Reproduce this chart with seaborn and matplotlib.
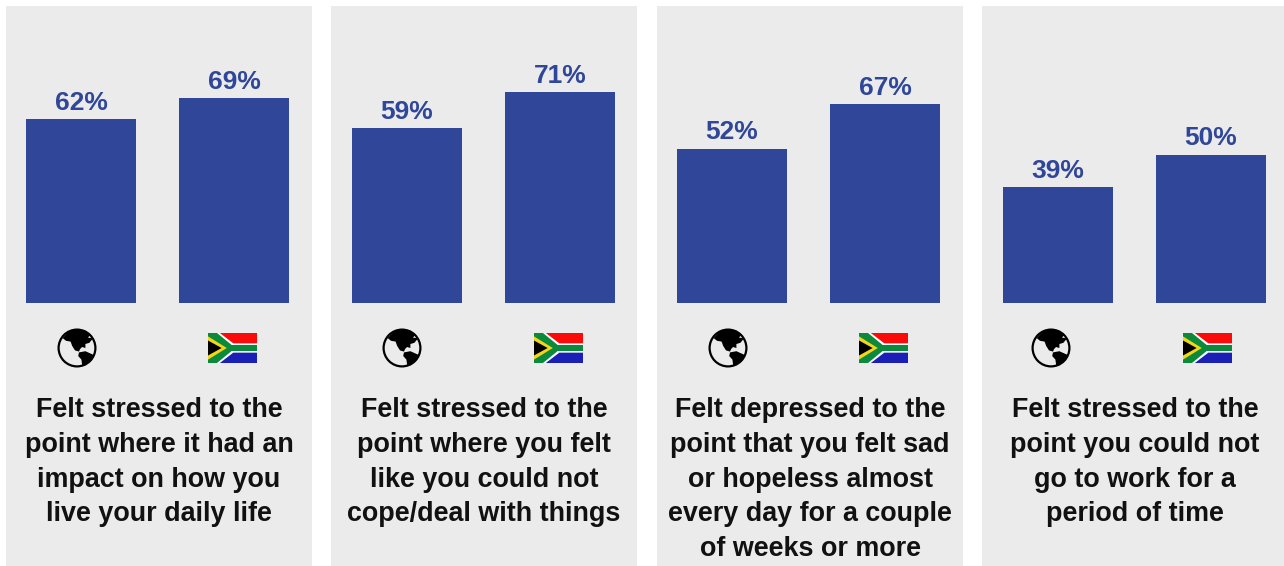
import matplotlib
matplotlib.use("Agg")
import matplotlib.pyplot as plt
from matplotlib.patches import Circle, Polygon, Rectangle
import pandas as pd
import seaborn as sns

scopes = ["Global", "South Africa"]
global_values = [62, 59, 52, 39]
south_africa_values = [69, 71, 67, 50]
captions = [
    "Felt stressed to the\npoint where it had an\nimpact on how you\nlive your daily life",
    "Felt stressed to the\npoint where you felt\nlike you could not\ncope/deal with things",
    "Felt depressed to the\npoint that you felt sad\nor hopeless almost\nevery day for a couple\nof weeks or more",
    "Felt stressed to the\npoint you could not\ngo to work for a\nperiod of time",
]

W, H = 1284, 566
BAR_COLOR = "#2F4699"
PANEL_COLOR = "#EBEBEB"
PX_PER_PCT = 2.97
BASELINE_Y = 303
PANEL_TOP = 6
PANEL_LEFTS = [6, 331, 657, 982]
FIRST_BAR_CENTERS = [81, 407, 732, 1058]
BAR_SPACING = 153
GLOBE_CENTERS = [77, 402, 728, 1051]
FLAG_LEFTS = [208, 534, 859, 1183]

sns.set_theme(style="white")
plt.rcParams["font.family"] = ["Liberation Sans", "DejaVu Sans"]


def px_axes(fig, left, top, width, height, **kwargs):
    """Add axes placed by pixel box measured from the top-left corner."""
    return fig.add_axes([left / W, 1 - (top + height) / H, width / W, height / H], **kwargs)


def draw_globe(fig, cx, cy, r=20):
    ax = px_axes(fig, cx - r, cy - r, 2 * r, 2 * r)
    ax.set_xlim(-1, 1)
    ax.set_ylim(-1, 1)
    ax.axis("off")
    ax.add_patch(Circle((0, 0), 0.92, fc=PANEL_COLOR, ec="black", lw=1.6))
    north_america = [(-0.72, 0.5), (-0.45, 0.78), (-0.05, 0.94), (0.4, 0.88), (0.68, 0.68),
                     (0.55, 0.52), (0.8, 0.48), (0.62, 0.26), (0.42, 0.2), (0.42, 0.0),
                     (0.25, 0.05), (0.15, -0.06), (0.1, -0.18), (-0.1, -0.12), (-0.24, 0.1),
                     (-0.32, 0.32), (-0.55, 0.36)]
    south_america = [(0.1, -0.22), (0.42, -0.16), (0.86, -0.36), (0.76, -0.58), (0.54, -0.72),
                     (0.4, -0.88), (0.26, -0.86), (0.22, -0.58), (0.06, -0.4)]
    ax.add_patch(Polygon(north_america, fc="black", ec="none"))
    ax.add_patch(Polygon(south_america, fc="black", ec="none"))


def draw_flag(fig, left, top, width=49, height=30):
    ax = px_axes(fig, left, top, width, height)
    ax.set_xlim(0, 6)
    ax.set_ylim(0, 4)
    ax.axis("off")
    ax.add_patch(Rectangle((0, 2), 6, 2, fc="#FB0A0A", ec="none"))
    ax.add_patch(Rectangle((0, 0), 6, 2, fc="#1A1FB8", ec="none"))
    ax.add_patch(Polygon([(0, 4), (1.45, 4), (3.1, 2.62), (6, 2.62), (6, 1.38), (3.1, 1.38),
                          (1.45, 0), (0, 0)], fc="white", ec="none"))
    ax.add_patch(Polygon([(0, 4), (1.1, 4), (2.9, 2.4), (6, 2.4), (6, 1.6), (2.9, 1.6),
                          (1.1, 0), (0, 0)], fc="#0B8A3C", ec="none"))
    ax.add_patch(Polygon([(0, 3.55), (2.3, 2), (0, 0.45)], fc="#F5D518", ec="none"))
    ax.add_patch(Polygon([(0, 3.0), (1.67, 2), (0, 1.0)], fc="black", ec="none"))


fig = plt.figure(figsize=(W / 100, H / 100), dpi=100, facecolor="white")

for i, caption in enumerate(captions):
    left = PANEL_LEFTS[i]
    ax = px_axes(fig, left, PANEL_TOP, 306, H - PANEL_TOP, facecolor=PANEL_COLOR)
    frame = pd.DataFrame({"scope": scopes, "share": [global_values[i], south_africa_values[i]]})
    sns.barplot(data=frame, x="scope", y="share", color=BAR_COLOR, saturation=1,
                width=0.715, linewidth=0, ax=ax)

    # Axis limits chosen so every panel shares one baseline and one bar scale.
    ax.set_xlim((left - FIRST_BAR_CENTERS[i]) / BAR_SPACING,
                (left + 306 - FIRST_BAR_CENTERS[i]) / BAR_SPACING)
    ax.set_ylim(-(H - BASELINE_Y) / PX_PER_PCT, (BASELINE_Y - PANEL_TOP) / PX_PER_PCT)
    ax.set_xlabel("")
    ax.set_ylabel("")
    ax.set_xticks([])
    ax.set_yticks([])
    sns.despine(ax=ax, left=True, bottom=True)

    ax.bar_label(ax.containers[0], fmt="%g%%", padding=3, color=BAR_COLOR,
                 fontsize=19, fontweight="bold")

    ax.text(0.5, 1 - (397 - PANEL_TOP) / (H - PANEL_TOP), caption, transform=ax.transAxes,
            ha="center", va="top", fontsize=19.4, fontweight="bold", color="#111111",
            linespacing=1.44, clip_on=False)

    draw_globe(fig, GLOBE_CENTERS[i], 348)
    draw_flag(fig, FLAG_LEFTS[i], 333)

fig.savefig("out.png", dpi=100, facecolor="white")
